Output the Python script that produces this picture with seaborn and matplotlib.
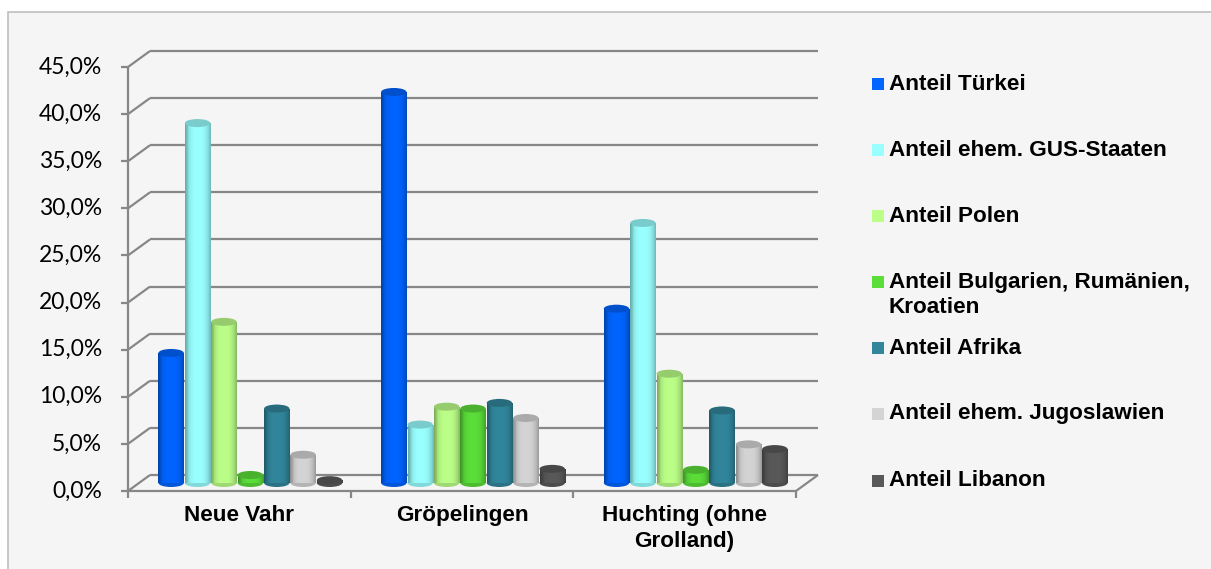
import numpy as np
import pandas as pd
import seaborn as sns
import matplotlib
matplotlib.use("Agg")
import matplotlib.pyplot as plt
from matplotlib.patches import Rectangle, Ellipse
from matplotlib.lines import Line2D
from matplotlib.transforms import IdentityTransform
import matplotlib.colors as mcolors

# ---------------- data ----------------
districts = ["Neue Vahr", "Gröpelingen", "Huchting (ohne\nGrolland)"]
series = ["Anteil Türkei", "Anteil ehem. GUS-Staaten", "Anteil Polen",
          "Anteil Bulgarien, Rumänien,\nKroatien", "Anteil Afrika",
          "Anteil ehem. Jugoslawien", "Anteil Libanon"]
tuerkei = [13.8, 41.5, 18.5]
gus = [38.2, 6.2, 27.6]
polen = [17.1, 8.1, 11.6]
bulgarien = [0.85, 7.9, 1.4]
afrika = [7.9, 8.5, 7.7]
jugoslawien = [3.0, 6.9, 4.1]
libanon = [0.3, 1.5, 3.6]
colors = ["#0064FF", "#99FFFF", "#BBFF88", "#5BDD3A", "#31869B", "#D4D4D4", "#595959"]
yticks = [0, 5, 10, 15, 20, 25, 30, 35, 40, 45]
ytick_labels = ["0,0%", "5,0%", "10,0%", "15,0%", "20,0%", "25,0%", "30,0%", "35,0%", "40,0%", "45,0%"]

values = [tuerkei, gus, polen, bulgarien, afrika, jugoslawien, libanon]
rows = []
for s, vals in zip(series, values):
    for d, v in zip(districts, vals):
        rows.append({"district": d, "series": s, "value": v})
df = pd.DataFrame(rows)

# ---------------- figure ----------------
sns.set_theme(style="white")
W, H = 1211, 569
DPI = 100
fig = plt.figure(figsize=(W / DPI, H / DPI), dpi=DPI)
fig.patch.set_facecolor("white")
fig.patches.append(Rectangle((8 / W, -0.02), 1.0, (H - 12) / H + 0.02,
                             transform=fig.transFigure, facecolor="#F5F5F5",
                             edgecolor="#BFBFBF", linewidth=1.2, zorder=-10))

# mid-depth plane axes
ax = fig.add_axes([139 / W, (H - 483) / H, 668 / W, 424 / H])
ax.set_facecolor("none")
XL, YL = (-0.5, 2.5), (0, 45)

sns.barplot(data=df, x="district", y="value", hue="series", order=districts,
            hue_order=series, palette=colors, width=0.83, gap=0.04,
            saturation=1, legend=False, ax=ax, zorder=2, linewidth=0)
ax.set_xlim(*XL)
ax.set_ylim(*YL)
ax.axis("off")

GRID = "#878787"
DX, DY = 11, 8   # half depth offset in pixels


def px(x, v):
    return ax.transData.transform((x, v))


def line(p0, p1, zorder=0, lw=1.6):
    ax.add_artist(Line2D([p0[0], p1[0]], [p0[1], p1[1]], transform=IdentityTransform(),
                         color=GRID, lw=lw, zorder=zorder, clip_on=False,
                         solid_capstyle="butt"))


for v, lab in zip(yticks, ytick_labels):
    lb = px(XL[0], v) + np.array([DX, DY])
    rb = px(XL[1], v) + np.array([DX, DY])
    lf = px(XL[0], v) + np.array([-DX, -DY])
    line(lb, rb)                     # back wall gridline
    line(lf, lb)                     # side diagonal
    line(lf - np.array([7, 0]), lf)  # tick on front axis
    ax.text(lf[0] - 26, lf[1], lab, transform=IdentityTransform(), ha="right",
            va="center", fontsize=16.5, family="Lato", color="black")

# front axis & floor
f0 = px(XL[0], 0) + np.array([-DX, -DY])
f45 = px(XL[0], 45) + np.array([-DX, -DY])
fr = px(XL[1], 0) + np.array([-DX, -DY])
br = px(XL[1], 0) + np.array([DX, DY])
line(f0, f45, zorder=5)
line(f0, fr, zorder=5)
line(fr, br, zorder=5)
for xb in [-0.5, 0.5, 1.5, 2.5]:
    p = px(xb, 0) + np.array([-DX, -DY])
    line(p, p - np.array([0, 7]), zorder=5)

# category labels
for i, d in enumerate(districts):
    p = px(i, 0)
    ax.text(p[0] - DX, H - 505, d, transform=IdentityTransform(), ha="center", va="top",
            fontsize=16.2, fontweight="bold", family="Liberation Sans", linespacing=1.3,
            color="black")

# cylinder shading
ppu = 424 / 45.0
eh = 8 / ppu
t = np.linspace(0, 1, 64)
shade = 1.0 - 0.28 * np.abs(2 * t - 1) ** 3
shade = shade - 0.06 * (t < 0.12)
bars = [p for p in ax.patches if isinstance(p, Rectangle) and p.get_height() > 0]
for p in bars:
    x0, w, h = p.get_x(), p.get_width(), p.get_height()
    base = np.array(mcolors.to_rgb(p.get_facecolor()))
    grad = np.clip(base[None, None, :] * shade[None, :, None], 0, 1)
    xc = x0 + w / 2
    be = Ellipse((xc, 0), w, eh, facecolor=base * 0.85, edgecolor="none", zorder=2.4,
                 clip_on=False)
    ax.add_patch(be)
    im = ax.imshow(grad, extent=(x0, x0 + w, 0, h), aspect="auto", zorder=3,
                   interpolation="bilinear")
    im.set_clip_path(p)
    im2 = ax.imshow(grad, extent=(x0, x0 + w, -eh / 2, eh / 2), aspect="auto", zorder=3,
                    interpolation="bilinear")
    im2.set_clip_path(be)
    im2.set_clip_box(None)
    top = Ellipse((xc, h), w, eh, facecolor=np.clip(base * 0.8, 0, 1),
                  edgecolor="none", zorder=4, clip_on=False)
    ax.add_patch(top)

ax.set_xlim(*XL)
ax.set_ylim(*YL)

# legend (drawn manually)
leg_y = [84, 150, 216, 282, 348, 414, 481]
for s, c, yc in zip(series, colors, leg_y):
    fig.patches.append(Rectangle((872 / W, (H - yc - 6) / H), 12 / W, 12 / H,
                                 transform=fig.transFigure, facecolor=c,
                                 edgecolor="none"))
    if "\n" in s:
        fig.text(889 / W, (H - yc - 13) / H, s, ha="left", va="center", fontsize=16.2,
                 fontweight="bold", family="Liberation Sans", linespacing=1.3,
                 color="black")
    else:
        fig.text(889 / W, (H - yc) / H, s, ha="left", va="center", fontsize=16.2,
                 fontweight="bold", family="Liberation Sans", color="black")

fig.savefig("out.png", dpi=DPI, facecolor="white")
